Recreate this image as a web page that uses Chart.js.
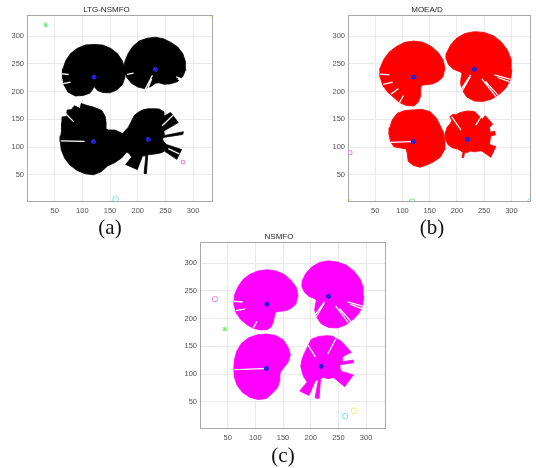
<!DOCTYPE html>
<html>
<head>
<meta charset="utf-8">
<script src="https://cdn.jsdelivr.net/npm/chart.js@4.4.1/dist/chart.umd.min.js"></script>
<style>
  html, body { margin: 0; padding: 0; background: #fff; }
  body { width: 536px; height: 468px; position: relative; overflow: hidden; }
  canvas { position: absolute; }
  .cap { position: absolute; font-family: "Liberation Serif", serif; font-size: 21px; color: #111;
         transform: translate(-50%, -50%); white-space: nowrap; }
</style>
</head>
<body>
<canvas id="ltg" width="219" height="217" style="left:0px;top:0px"></canvas>
<canvas id="moead" width="216" height="217" style="left:320px;top:0px"></canvas>
<canvas id="nsmfo" width="220" height="217" style="left:172px;top:227px"></canvas>
<div class="cap" style="left:110px;top:227px">(a)</div>
<div class="cap" style="left:432px;top:227px">(b)</div>
<div class="cap" style="left:283px;top:455px">(c)</div>
<script>
// Axis ticks (m)
const ticksX = [50, 100, 150, 200, 250, 300];
const ticksY = [50, 100, 150, 200, 250, 300];

// Sensor positions (m)
const sensorX = [121, 232, 120, 219];
const sensorY = [226, 240, 110, 114];

// Coverage outline of each sensor: [bearing (deg), reach (m)]
// LTG-NSMFO
const ltgReach1 = [[0,56],[15,58],[30,59],[45,60],[60,60],[75,60],[90,59],[105,60],[120,60],[135,60],[150,59],[165,58],[180,57],[195,56],[210,54],[225,48],[240,38],[255,30],[262,24],[270,17],[278,20],[285,25],[300,32],[315,40],[330,47],[345,53]];
const ltgReach2 = [[0,55],[15,56],[30,57],[45,57],[60,56],[75,57],[90,58],[105,58],[120,59],[135,58],[150,57],[165,57],[180,57],[195,54],[210,50],[225,45],[240,40],[255,32],[270,25],[285,25],[300,31],[315,37],[330,45],[345,51]];
const ltgReach3 = [[0,66],[10,60],[20,50],[28,44],[38,34],[45,32],[55,40],[65,50],[75,58],[90,62],[100,66],[108,72],[112,64],[118,73],[125,70],[130,74],[137,66],[142,72],[150,66],[160,61],[170,60],[180,60],[195,60],[210,60],[225,60],[240,60],[255,60],[270,60],[285,56],[300,51],[315,54],[330,59],[345,64]];
const ltgReach4 = [[0,26],[7,27],[8,63],[12,65],[13,30],[28,32],[29,62],[50,63],[55,52],[60,57],[70,58],[80,56],[90,55],[100,54],[110,52],[120,50],[135,44],[150,42],[160,45],[170,48],[180,50],[195,50],[205,48],[216,43],[227,44],[228,61],[250,58],[251,32],[262,30],[263,62],[267,62],[268,28],[285,28],[300,30],[315,34],[324,36],[325,63],[343,63],[344,34],[352,28]];
// MOEA/D
const moeaReach1 = [[0,53],[15,59],[30,62],[45,63],[60,64],[75,65],[90,65],[105,65],[120,64],[135,64],[150,64],[165,64],[180,62],[195,59],[210,55],[225,52],[240,53],[255,53],[270,52],[280,46],[290,36],[300,25],[310,21],[320,22],[330,27],[340,36],[350,45]];
const moeaReach2 = [[0,69],[15,70],[30,70],[45,70],[60,70],[75,69],[90,68],[105,67],[120,65],[135,62],[150,59],[160,55],[170,48],[180,38],[190,26],[200,24],[210,28],[225,36],[240,44],[255,52],[270,57],[285,60],[300,62],[315,64],[330,67],[345,69]];
const moeaReach3 = [[0,58],[15,58],[30,57],[45,60],[60,62],[75,60],[90,57],[105,58],[120,59],[135,55],[150,50],[165,46],[180,42],[195,37],[210,24],[225,19],[240,23],[255,37],[270,43],[285,48],[300,49],[315,52],[330,57],[345,59]];
const moeaReach4 = [[0,42],[8,44],[9,53],[16,53],[17,44],[28,46],[30,54],[52,54],[53,46],[65,48],[75,52],[90,51],[105,50],[115,49],[120,52],[128,52],[130,44],[140,42],[150,43],[165,42],[180,40],[195,37],[210,31],[225,25],[240,24],[252,25],[253,34],[258,34],[259,24],[270,24],[285,22],[300,26],[315,30],[322,34],[323,54],[346,54],[347,42]];
// NSMFO
const nsmfoReach1 = [[0,52],[15,58],[30,61],[45,61],[60,62],[75,62],[90,62],[105,62],[120,62],[135,62],[150,61],[165,61],[180,60],[195,58],[210,55],[225,52],[240,50],[255,48],[270,46],[280,42],[290,34],[300,26],[310,22],[320,22],[330,26],[340,35],[350,44]];
const nsmfoReach2 = [[0,64],[15,65],[30,65],[45,65],[60,65],[75,64],[90,64],[105,63],[120,61],[135,58],[150,55],[160,51],[170,44],[180,35],[190,25],[200,23],[210,27],[225,35],[240,43],[255,51],[270,56],[285,59],[300,60],[315,61],[330,63],[345,64]];
const nsmfoReach3 = [[0,30],[15,40],[30,50],[45,55],[60,60],[75,62],[90,62],[105,63],[120,64],[135,64],[150,62],[165,60],[180,59],[195,60],[210,61],[225,61],[240,60],[255,58],[270,54],[285,45],[300,40],[315,33],[330,28],[345,26]];
const nsmfoReach4 = [[0,34],[5,34],[6,59],[11,59],[12,40],[24,42],[25,60],[52,58],[60,57],[70,58],[80,56],[95,54],[110,52],[125,43],[140,39],[160,37],[180,37],[195,36],[210,37],[228,38],[229,59],[247,57],[248,28],[258,25],[259,58],[266,58],[267,22],[280,20],[300,26],[318,30],[319,56],[345,60],[346,38],[352,35]];

// Shadowed rays inside each coverage area: [bearing (deg), from (m), to (m)]
const ltgGaps1 = [[174,46,58],[192,43,57]];
const ltgGaps2 = [[243,12,40],[248,18,36],[340,40,52],[337,44,50],[190,40,52]];
const ltgGaps3 = [[179,16,59],[135,50,72]];
const ltgGaps4 = [[44,35,62],[335,40,62]];
const moeaGaps1 = [[175,45,62],[193,40,58],[216,35,52],[240,38,53]];
const moeaGaps2 = [[236,12,44],[240,15,46],[309,22,63],[313,30,64],[345,38,69],[341,45,68]];
const moeaGaps3 = [[182,4,42]];
const moeaGaps4 = [[125,20,50],[58,30,50]];
const nsmfoGaps1 = [[175,44,60],[192,40,57],[240,36,50]];
const nsmfoGaps2 = [[234,12,43],[239,15,45],[307,22,60],[312,30,61],[344,36,64],[340,42,64]];
const nsmfoGaps3 = [[182,4,58]];
const nsmfoGaps4 = [[62,25,57],[122,20,45]];

// Targets (m)
const ltgMarkX = [34, 335, 160, 282];
const ltgMarkY = [320, 337, 6, 73];
const moeaMarkX = [4, 118, 1, 335];
const moeaMarkY = [90, 2, 2, 3];
const nsmfoMarkX = [27, 45, 262, 278];
const nsmfoMarkY = [235, 181, 24, 34];

const DEG = Math.PI / 180;

function outlinePoints(reach, cx, cy) {
  const pts = reach.map(([a, r]) => ({ x: cx + r * Math.cos(a * DEG), y: cy + r * Math.sin(a * DEG) }));
  pts.push(pts[0]);
  return pts;
}

function gapPoints(gaps, cx, cy) {
  const pts = [];
  gaps.forEach(([a, r0, r1]) => {
    pts.push({ x: cx + r0 * Math.cos(a * DEG), y: cy + r0 * Math.sin(a * DEG) });
    pts.push({ x: cx + r1 * Math.cos(a * DEG), y: cy + r1 * Math.sin(a * DEG) });
    pts.push({ x: null, y: null });
  });
  return pts;
}

// Axes box drawn on all four sides
const boxPlugin = {
  id: 'axesBox',
  afterDraw(chart) {
    const { ctx, chartArea: a } = chart;
    ctx.save();
    ctx.strokeStyle = '#a8a8a8';
    ctx.lineWidth = 1;
    ctx.strokeRect(Math.round(a.left) + 0.5, Math.round(a.top) + 0.5,
                   Math.round(a.right - a.left) - 1, Math.round(a.bottom - a.top) - 1);
    ctx.restore();
  }
};

const tickFont = { family: 'Liberation Sans', size: 7.5 };

function drawPanel(id, title, color, reaches, gaps, markX, markY, markLook, yWidth, padRight) {
  const datasets = [];
  datasets.push({
    data: sensorX.map((x, i) => ({ x, y: sensorY[i] })),
    showLine: false, pointStyle: 'circle', pointRadius: 2.1,
    pointBackgroundColor: '#2323d6', pointBorderColor: '#2323d6', order: 0
  });
  markX.forEach((x, i) => datasets.push({
    data: [{ x, y: markY[i] }], showLine: false,
    pointStyle: markLook[i][0], pointRadius: markLook[i][2],
    pointBorderColor: markLook[i][1], pointBackgroundColor: 'rgba(255,255,255,0)',
    pointBorderWidth: 1, order: 1
  }));
  gaps.forEach((g, k) => datasets.push({
    data: gapPoints(g, sensorX[k], sensorY[k]), showLine: true, spanGaps: false,
    borderColor: '#ffffff', borderWidth: 1.3, pointRadius: 0, fill: false, order: 2
  }));
  reaches.forEach((r, k) => datasets.push({
    data: outlinePoints(r, sensorX[k], sensorY[k]), showLine: true,
    borderColor: color, backgroundColor: color, borderWidth: 0.8,
    pointRadius: 0, tension: 0, fill: 'shape', order: 3
  }));

  const axis = (ticks, min, max, horizontal) => ({
    type: 'linear', min, max,
    afterBuildTicks: ax => { ax.ticks = ticks.map(v => ({ value: v })); },
    afterFit: ax => { if (horizontal) ax.height = 15; else ax.width = yWidth; },
    grid: { color: '#e9e9e9', lineWidth: 1, drawTicks: false },
    border: { display: false },
    ticks: { font: tickFont, color: '#505050', padding: horizontal ? 4 : 3,
             autoSkip: false, maxRotation: 0 }
  });

  new Chart(document.getElementById(id), {
    type: 'scatter',
    data: { datasets },
    options: {
      responsive: false, animation: false, devicePixelRatio: 1,
      layout: { padding: { left: 0, right: padRight, top: 0, bottom: 0 } },
      plugins: {
        legend: { display: false },
        tooltip: { enabled: false },
        title: { display: true, text: title, color: '#262626',
                 font: { family: 'Liberation Sans', size: 8, weight: 'normal' },
                 padding: { top: 5.4, bottom: 0 } }
      },
      scales: { x: axis(ticksX, 0, 336, true), y: axis(ticksY, 1, 338, false) }
    },
    plugins: [boxPlugin]
  });
}

const green = '#74e874', magenta = '#ec80ec', cyan = '#7ae6ee', yellow = '#eeee80';

drawPanel('ltg', 'LTG-NSMFO', '#000000',
  [ltgReach1, ltgReach2, ltgReach3, ltgReach4],
  [ltgGaps1, ltgGaps2, ltgGaps3, ltgGaps4],
  ltgMarkX, ltgMarkY,
  [['star', green, 2.6], ['circle', yellow, 2.6], ['circle', cyan, 2.8], ['rect', magenta, 2.4]],
  27, 6);

drawPanel('moead', 'MOEA/D', '#ff0000',
  [moeaReach1, moeaReach2, moeaReach3, moeaReach4],
  [moeaGaps1, moeaGaps2, moeaGaps3, moeaGaps4],
  moeaMarkX, moeaMarkY,
  [['rect', magenta, 2.4], ['circle', green, 2.6], ['circle', yellow, 2.6], ['circle', cyan, 2.6]],
  28, 2);

drawPanel('nsmfo', 'NSMFO', '#ff00ff',
  [nsmfoReach1, nsmfoReach2, nsmfoReach3, nsmfoReach4],
  [nsmfoGaps1, nsmfoGaps2, nsmfoGaps3, nsmfoGaps4],
  nsmfoMarkX, nsmfoMarkY,
  [['circle', magenta, 2.6], ['star', green, 2.6], ['circle', cyan, 2.8], ['circle', yellow, 2.8]],
  28, 6);
</script>
</body>
</html>
